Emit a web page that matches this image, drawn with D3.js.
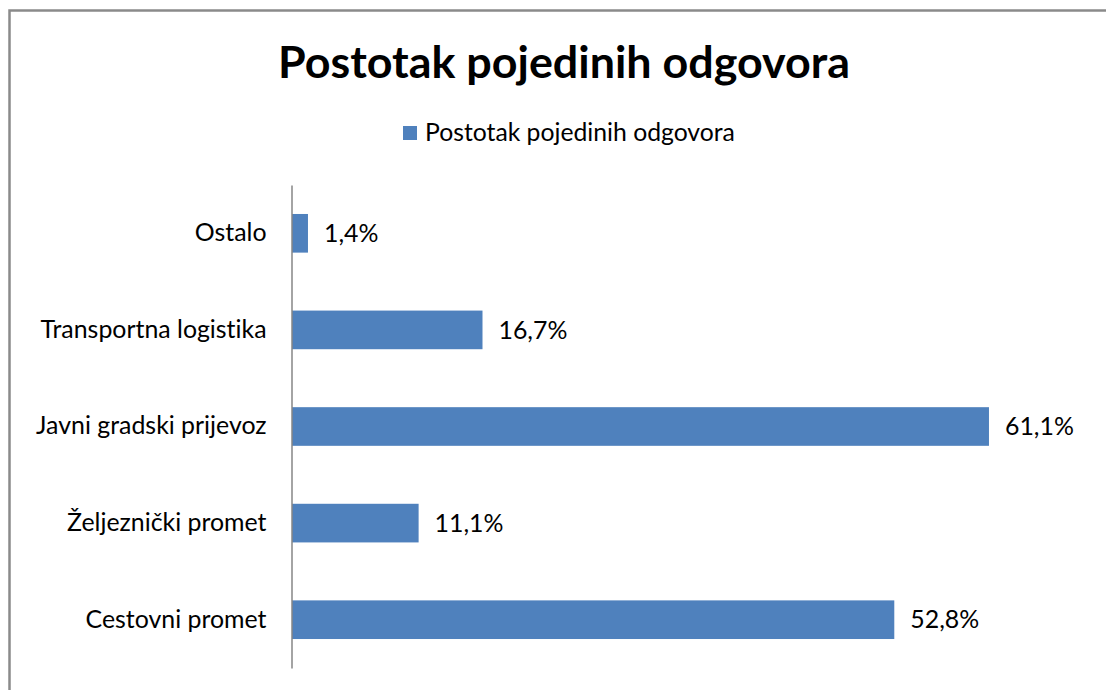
<!DOCTYPE html>
<html>
<head>
<meta charset="utf-8">
<script src="https://cdn.jsdelivr.net/npm/d3@7"></script>
<style>
  body { margin: 0; background: #fff; }
  svg { display: block; font-family: Lato, "Open Sans", sans-serif; font-variant-ligatures: none; }
</style>
</head>
<body>
<svg id="chart" width="1106" height="690"></svg>
<script>
const title = "Postotak pojedinih odgovora";
const seriesName = "Postotak pojedinih odgovora";
const categories = ["Ostalo", "Transportna logistika", "Javni gradski prijevoz", "Željeznički promet", "Cestovni promet"];
const values = [1.4, 16.7, 61.1, 11.1, 52.8];
const xMax = 70;

const svg = d3.select("#chart");
const width = 1106, height = 690;

// chart frame (right and bottom edges fall outside the picture)
svg.append("rect")
  .attr("x", 9.5).attr("y", 10.5)
  .attr("width", 1200).attr("height", 800)
  .attr("fill", "#fff")
  .attr("stroke", "#8a8a8a")
  .attr("stroke-width", 2.5);

// scale text so its width matches the reference
function fitText(sel, target) {
  const w = sel.node().getComputedTextLength();
  const fs = parseFloat(sel.attr("font-size"));
  sel.attr("font-size", fs * target / w);
}

const t = svg.append("text")
  .attr("x", 564).attr("y", 78)
  .attr("text-anchor", "middle")
  .attr("font-size", 40)
  .attr("font-weight", "bold")
  .text(title);
fitText(t, 572);

// legend
svg.append("rect")
  .attr("x", 403).attr("y", 126)
  .attr("width", 14).attr("height", 14)
  .attr("fill", "#4f81bd");
const lt = svg.append("text")
  .attr("x", 425).attr("y", 141)
  .attr("font-size", 20)
  .text(seriesName);
fitText(lt, 310);

const x = d3.scaleLinear().domain([0, xMax]).range([292, 292 + xMax * 11.407]);
const y = d3.scaleBand().domain(categories).range([185, 668])
  .paddingInner(0.6).paddingOuter(0.3);

const data = categories.map((c, i) => ({ name: c, value: values[i] }));

svg.selectAll(".bar")
  .data(data)
  .enter()
  .append("rect")
  .attr("class", "bar")
  .attr("x", x(0))
  .attr("y", d => y(d.name))
  .attr("width", d => x(d.value) - x(0))
  .attr("height", y.bandwidth())
  .attr("fill", "#4f81bd");

// category axis, no ticks
const yAxis = svg.append("g")
  .attr("transform", `translate(${x(0) - 0.5},0)`)
  .call(d3.axisLeft(y).tickSize(0).tickPadding(25));
yAxis.select(".domain").attr("stroke", "#868686").attr("stroke-width", 1.5);
yAxis.selectAll("text")
  .attr("font-size", 20)
  .attr("fill", "#000")
  .attr("font-family", "Lato, 'Open Sans', sans-serif");
const ref = yAxis.selectAll("text").filter(d => d === "Transportna logistika");
const scaleF = 226 / ref.node().getComputedTextLength();
yAxis.selectAll("text").attr("font-size", 20 * scaleF);

const fmt = v => d3.format(".1f")(v).replace(".", ",") + "%";

svg.selectAll(".val")
  .data(data)
  .enter()
  .append("text")
  .attr("class", "val")
  .attr("x", d => x(d.value) + 16)
  .attr("y", d => y(d.name) + y.bandwidth() / 2)
  .attr("dy", "0.35em")
  .attr("font-size", 20 * scaleF)
  .text(d => fmt(d.value));
</script>
</body>
</html>
